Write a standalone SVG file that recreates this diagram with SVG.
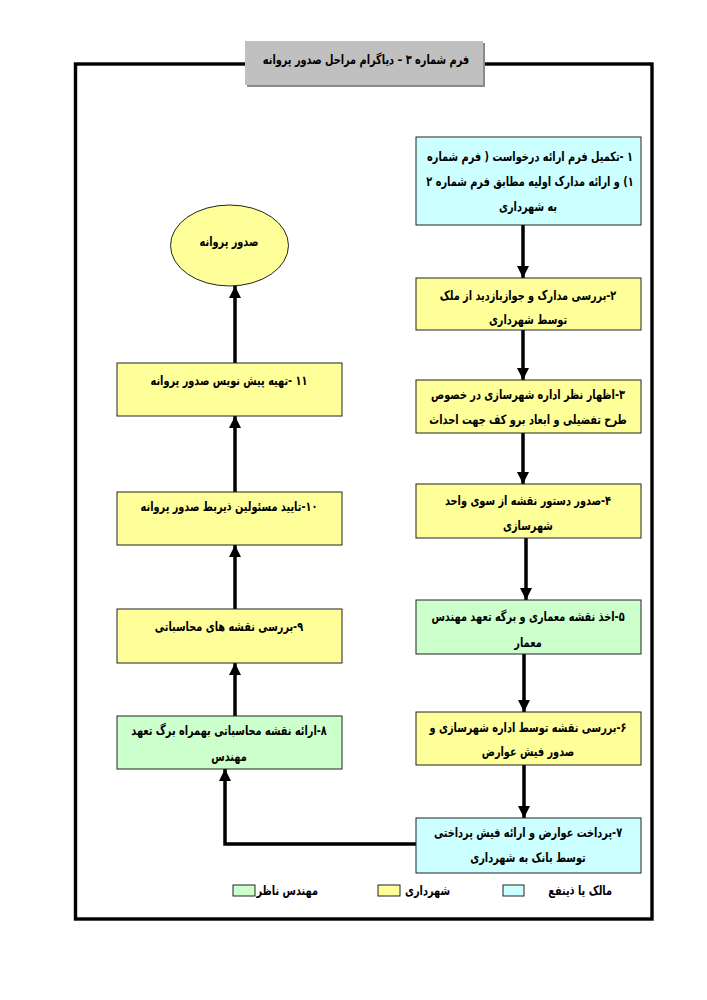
<svg xmlns="http://www.w3.org/2000/svg" width="707" height="1000" viewBox="0 0 707 1000">
<style>
text{font-family:"DejaVu Sans","Noto Sans",sans-serif;font-weight:bold;font-size:13px;fill:#000;direction:rtl;unicode-bidi:embed}
.c{text-anchor:middle}
.s{text-anchor:start}
.box{stroke:#222;stroke-width:1}
.cy{fill:#ccffff}
.ye{fill:#ffff99}
.gr{fill:#ccffcc}
.conn line,.conn polyline{stroke:#000;stroke-width:3.5;fill:none}
</style>
<defs>
<marker id="ah" markerUnits="userSpaceOnUse" markerWidth="13" markerHeight="12" refX="12" refY="6" orient="auto">
<path d="M0,0 L12,6 L0,12 z" fill="#000"/>
</marker>
</defs>
<rect width="707" height="1000" fill="#fff"/>
<g id="frame">
<rect x="75.5" y="64" width="576.5" height="855" fill="none" stroke="#000" stroke-width="3.4"/>
</g>
<g id="title">
<rect x="247" y="43" width="238" height="44" fill="#8a8a8a"/>
<rect x="245" y="41" width="238" height="44" fill="#c0c0c0"/>
<text class="c" transform="translate(366,64) scale(0.75,1)">فرم شماره ۳ – دیاگرام مراحل صدور پروانه</text>
</g>
<g class="conn" id="connectors">
<line x1="523" y1="225" x2="523" y2="278" marker-end="url(#ah)"/>
<line x1="523" y1="330" x2="523" y2="380" marker-end="url(#ah)"/>
<line x1="523" y1="433" x2="523" y2="484" marker-end="url(#ah)"/>
<line x1="526" y1="538" x2="526" y2="600" marker-end="url(#ah)"/>
<line x1="524" y1="654" x2="524" y2="712" marker-end="url(#ah)"/>
<line x1="524" y1="765" x2="524" y2="818" marker-end="url(#ah)"/>
<polyline points="417,844 225,844 225,769" marker-end="url(#ah)"/>
<line x1="235" y1="716" x2="235" y2="663" marker-end="url(#ah)"/>
<line x1="235" y1="609" x2="235" y2="545" marker-end="url(#ah)"/>
<line x1="235" y1="492" x2="235" y2="416" marker-end="url(#ah)"/>
<line x1="235" y1="363" x2="235" y2="286" marker-end="url(#ah)"/>
</g>
<g id="n1">
<rect class="box cy" x="416" y="137" width="225" height="88"/>
<text class="c" transform="translate(530,161) scale(0.75,1)">۱ -تکمیل فرم ارائه درخواست ( فرم شماره</text>
<text class="c" transform="translate(530,186) scale(0.75,1)">۱) و ارائه مدارک اولیه مطابق فرم شماره ۲</text>
<text class="c" transform="translate(528,211) scale(0.75,1)">به شهرداری</text>
</g>
<g id="n2">
<rect class="box ye" x="416" y="278" width="225" height="52"/>
<text class="c" transform="translate(528,300) scale(0.75,1)">۲-بررسی مدارک و جوازبازدید از ملک</text>
<text class="c" transform="translate(528,324) scale(0.75,1)">توسط شهرداری</text>
</g>
<g id="n3">
<rect class="box ye" x="416" y="380" width="225" height="53"/>
<text class="c" transform="translate(528,399) scale(0.75,1)">۳-اظهار نظر اداره شهرسازی در خصوص</text>
<text class="c" transform="translate(528,424) scale(0.75,1)">طرح تفضیلی و ابعاد برو کف جهت احداث</text>
</g>
<g id="n4">
<rect class="box ye" x="416" y="484" width="225" height="54"/>
<text class="c" transform="translate(528,505) scale(0.75,1)">۴-صدور دستور نقشه از سوی واحد</text>
<text class="c" transform="translate(528,530) scale(0.75,1)">شهرسازی</text>
</g>
<g id="n5">
<rect class="box gr" x="416" y="600" width="225" height="54"/>
<text class="c" transform="translate(528,621) scale(0.75,1)">۵-اخذ نقشه معماری و برگه تعهد مهندس</text>
<text class="c" transform="translate(528,647) scale(0.75,1)">معمار</text>
</g>
<g id="n6">
<rect class="box ye" x="416" y="712" width="225" height="53"/>
<text class="c" transform="translate(528,732) scale(0.75,1)">۶-بررسی نقشه توسط اداره شهرسازی و</text>
<text class="c" transform="translate(528,756) scale(0.75,1)">صدور فیش عوارض</text>
</g>
<g id="n7">
<rect class="box cy" x="416" y="818" width="225" height="55"/>
<text class="c" transform="translate(528,837) scale(0.75,1)">۷-پرداخت عوارض و ارائه فیش پرداختی</text>
<text class="c" transform="translate(528,862) scale(0.75,1)">توسط بانک به شهرداری</text>
</g>
<g id="n8">
<rect class="box gr" x="117" y="716" width="225" height="53"/>
<text class="c" transform="translate(229,735) scale(0.75,1)">۸-ارائه نقشه محاسباتی بهمراه برگ تعهد</text>
<text class="c" transform="translate(229,761) scale(0.75,1)">مهندس</text>
</g>
<g id="n9">
<rect class="box ye" x="117" y="609" width="225" height="54"/>
<text class="c" transform="translate(229,631) scale(0.75,1)">۹-بررسی نقشه های محاسباتی</text>
</g>
<g id="n10">
<rect class="box ye" x="117" y="492" width="225" height="53"/>
<text class="c" transform="translate(229,511) scale(0.75,1)">۱۰-تایید مسئولین ذیربط صدور پروانه</text>
</g>
<g id="n11">
<rect class="box ye" x="117" y="363" width="225" height="53"/>
<text class="c" transform="translate(229,385) scale(0.75,1)">۱۱ -تهیه پیش نویس صدور پروانه</text>
</g>
<g id="end">
<ellipse class="box ye" cx="229.5" cy="245.5" rx="59" ry="40.5"/>
<text class="c" transform="translate(229,246) scale(0.75,1)">صدور پروانه</text>
</g>
<g id="legend">
<rect class="box gr" x="233" y="885" width="22" height="11"/>
<text class="s" transform="translate(318,895) scale(0.75,1)">مهندس ناظر</text>
<rect class="box ye" x="378" y="885" width="22" height="11"/>
<text class="s" transform="translate(450,895) scale(0.75,1)">شهرداری</text>
<rect class="box cy" x="503" y="885" width="21" height="11"/>
<text class="s" transform="translate(612,895) scale(0.75,1)">مالک یا ذینفع</text>
</g>
</svg>
